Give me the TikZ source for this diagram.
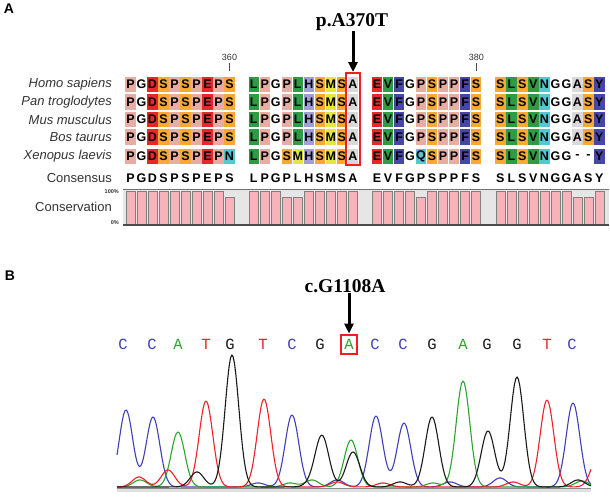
\documentclass[tikz,border=0pt]{standalone}
\usepackage{fontspec}
\setmainfont{Liberation Serif}
\setsansfont{Liberation Sans}
\setmonofont{Liberation Mono}
\usetikzlibrary{arrows.meta}

% residue colours
\definecolor{rP}{HTML}{E8ADA2}
\definecolor{rG}{HTML}{FFFFFF}
\definecolor{rD}{HTML}{E4282B}
\definecolor{rE}{HTML}{E4282B}
\definecolor{rS}{HTML}{F8A834}
\definecolor{rL}{HTML}{2F9B43}
\definecolor{rV}{HTML}{2F9B43}
\definecolor{rH}{HTML}{A19ED6}
\definecolor{rM}{HTML}{E6E640}
\definecolor{rA}{HTML}{D9D9D9}
\definecolor{rF}{HTML}{4646A6}
\definecolor{rY}{HTML}{4646A6}
\definecolor{rN}{HTML}{56C6D2}
\definecolor{rQ}{HTML}{56C6D2}
% trace colours
\definecolor{bC}{HTML}{3F3FB8}
\definecolor{bA}{HTML}{2DA52D}
\definecolor{bT}{HTML}{F0202A}
\definecolor{bG}{HTML}{1A1A1A}
\definecolor{consbg}{HTML}{E6E6E6}
\definecolor{consfg}{HTML}{F7B3BA}
\definecolor{mutred}{HTML}{F21D1D}

\tikzset{
  rescell/.style={rectangle, minimum width=10.4pt, minimum height=15.5pt, inner sep=0pt,
    font=\sffamily\bfseries\fontsize{12.5}{12.5}\selectfont},
  conscell/.style={fill=none},
  species/.style={anchor=east, inner sep=0pt, text=black!80,
    font=\sffamily\itshape\fontsize{13}{13}\selectfont},
  rowname/.style={anchor=east, inner sep=0pt, text=black!80,
    font=\sffamily\fontsize{13}{13}\selectfont},
  pctname/.style={anchor=east, inner sep=0pt, text=black!80,
    font=\sffamily\bfseries\fontsize{5.5}{5.5}\selectfont},
  posnum/.style={inner sep=0pt, text=black!80, font=\sffamily\fontsize{9}{9}\selectfont},
  panel/.style={inner sep=0pt, font=\sffamily\bfseries\fontsize{14}{14}\selectfont},
  mutlabel/.style={inner sep=0pt, font=\rmfamily\bfseries\fontsize{19.5}{19.5}\selectfont},
  mutarrow/.style={line width=3pt, -{Triangle[length=10pt,width=9pt]}},
  mutbox/.style={draw=mutred, line width=2pt, inner sep=0pt},
  basecall/.style={inner sep=0pt, font=\ttfamily\fontsize{15.5}{15.5}\selectfont},
  consbar/.style={fill=consfg, draw=black!50, line width=0.6pt},
  trace/.style={line width=1.1pt, line join=round},
}

\def\gapmark{-}
% one alignment row: name, y, extra style, residues
\newcommand{\alnrow}[4]{%
  \foreach \res [count=\i from 0] in {#4} {
    \pgfmathsetmacro{\cx}{130.5+123.3*floor(\i/10)+11*mod(\i,10)}
    \ifx\res\gapmark \def\cfill{white}\else \edef\cfill{r\res}\fi
    \node[rescell, fill=\cfill, #3] (#1-\i) at (\cx,#2) {\res};
  }}

\begin{document}
\begin{tikzpicture}[x=1pt, y=-1pt,
  declare function={pk(\pos,\ctr,\hgt)=\hgt*exp(-min(((\pos-\ctr)/6.8)*((\pos-\ctr)/6.8)/2,9));}]
  \useasboundingbox[fill=white] (0,0) rectangle (610,496);

  % ---- A: alignment
  \node[panel] (lab-a) at (9,9) {A};

  \node[species] (sp-homo) at (112,84.5) {Homo sapiens};
  \node[species] (sp-pan) at (112,102) {Pan troglodytes};
  \node[species] (sp-mus) at (112,119.5) {Mus musculus};
  \node[species] (sp-bos) at (112,137) {Bos taurus};
  \node[species] (sp-xen) at (112,156.5) {Xenopus laevis};
  \node[rowname] (sp-cons) at (112,178) {Consensus};

  \alnrow{homo}{84.5}{}{P,G,D,S,P,S,P,E,P,S,L,P,G,P,L,H,S,M,S,A,E,V,F,G,P,S,P,P,F,S,S,L,S,V,N,G,G,A,S,Y}
  \alnrow{pan}{102}{}{P,G,D,S,P,S,P,E,P,S,L,P,G,P,L,H,S,M,S,A,E,V,F,G,P,S,P,P,F,S,S,L,S,V,N,G,G,A,S,Y}
  \alnrow{mus}{119.5}{}{P,G,D,S,P,S,P,E,P,S,L,P,G,P,L,H,S,M,S,A,E,V,F,G,P,S,P,P,F,S,S,L,S,V,N,G,G,A,S,Y}
  \alnrow{bos}{137}{}{P,G,D,S,P,S,P,E,P,S,L,P,G,P,L,H,S,M,S,A,E,V,F,G,P,S,P,P,F,S,S,L,S,V,N,G,G,A,S,Y}
  \alnrow{xen}{156.5}{}{P,G,D,S,P,S,P,E,P,N,L,P,G,S,M,H,S,M,S,A,E,V,F,G,Q,S,P,P,F,S,S,L,S,V,N,G,G,-,-,Y}
  \alnrow{cons}{178}{conscell}{P,G,D,S,P,S,P,E,P,S,L,P,G,P,L,H,S,M,S,A,E,V,F,G,P,S,P,P,F,S,S,L,S,V,N,G,G,A,S,Y}

  % position ticks
  \node[posnum] (num-360) at (229.5,57) {360};
  \draw[black!70, line width=0.8pt] ([yshift=-2.5pt]num-360.south) -- +(0,8);
  \node[posnum] (num-380) at (476.4,57) {380};
  \draw[black!70, line width=0.8pt] ([yshift=-2.5pt]num-380.south) -- +(0,8);

  % conservation
  \fill[consbg] (123,189) rectangle (609,225);
  \foreach \h [count=\i from 0] in {1,1,1,1,1,1,1,1,1,0.8, 1,1,1,0.8,0.8,1,1,1,1,1,
                                    1,1,1,1,0.8,1,1,1,1,1, 1,1,1,1,1,1,1,0.8,0.8,1} {
    \pgfmathsetmacro{\cx}{130.5+123.3*floor(\i/10)+11*mod(\i,10)}
    \filldraw[consbar] (\cx-4.6,224) rectangle (\cx+4.6,224-33*\h);
  }
  \draw[black!55, line width=0.8pt] (123,189) -- (609,189);
  \draw[black!70, line width=1.6pt] (123,225) -- (609,225);
  \node[pctname] (pct-100) at (119,192) {100\%};
  \node[pctname] (pct-0) at (119,222.5) {0\%};
  \node[rowname] (sp-consv) at (112,206.5) {Conservation};

  % mutation
  \node[mutbox, minimum width=14pt, minimum height=92pt] (box-a370) at (353,119) {};
  \node[mutlabel] (lab-a370t) at (352,22) {p.A370T};
  \draw[mutarrow] (lab-a370t.south -| box-a370.north) -- (box-a370.north);

  % ---- B: chromatogram
  \node[panel] (lab-b) at (10,276) {B};
  \node[mutlabel] (lab-g1108a) at (345,286) {c.G1108A};

  \foreach \b/\bx [count=\i] in {C/123,C/152,A/178,T/206,G/230,T/263,C/292,G/320,A/349,
                                 C/375,C/403,G/432,A/463,G/487,G/517,T/547,C/572}
    \node[basecall, text=b\b] (base-\i) at (\bx,344) {\b};

  \node[mutbox, minimum width=16pt, minimum height=19pt] (box-g1108a) at (base-9) {};
  \draw[mutarrow] (lab-g1108a.south -| box-g1108a.north) -- (box-g1108a.north);

  \fill[black!12] (117,488) rectangle (591,492);
  \draw[black!45, line width=1pt] (117,488) -- (591,488);

  \draw[trace, bC] plot[domain=117:591, samples=360] (\x, {487-pk(\x,126,77)-pk(\x,153,70)
    -pk(\x,292,72)-pk(\x,376,71)-pk(\x,404,64)-pk(\x,573,84)
    -pk(\x,258,4)-pk(\x,337,7)-pk(\x,450,5)-pk(\x,500,9)});
  \draw[trace, bA] plot[domain=117:591, samples=360] (\x, {487-pk(\x,178,55)-pk(\x,351,47)
    -pk(\x,463,106)-pk(\x,140,7)-pk(\x,290,4)-pk(\x,312,7)-pk(\x,433,4)-pk(\x,582,6)});
  \draw[trace, bT] plot[domain=117:591, samples=360] (\x, {487-pk(\x,206,86)-pk(\x,264,88)
    -pk(\x,547,87)-pk(\x,139,10)-pk(\x,168,17)-pk(\x,337,5)-pk(\x,383,4)-pk(\x,513,5)
    -pk(\x,598,30)});
  \draw[trace, bG] plot[domain=117:591, samples=360] (\x, {487-pk(\x,232,132)-pk(\x,322,51)
    -pk(\x,353,35)-pk(\x,432,70)-pk(\x,488,56)-pk(\x,517,110)-pk(\x,197,15)-pk(\x,311,3)
    -pk(\x,400,5)-pk(\x,578,7)});
\end{tikzpicture}
\end{document}
